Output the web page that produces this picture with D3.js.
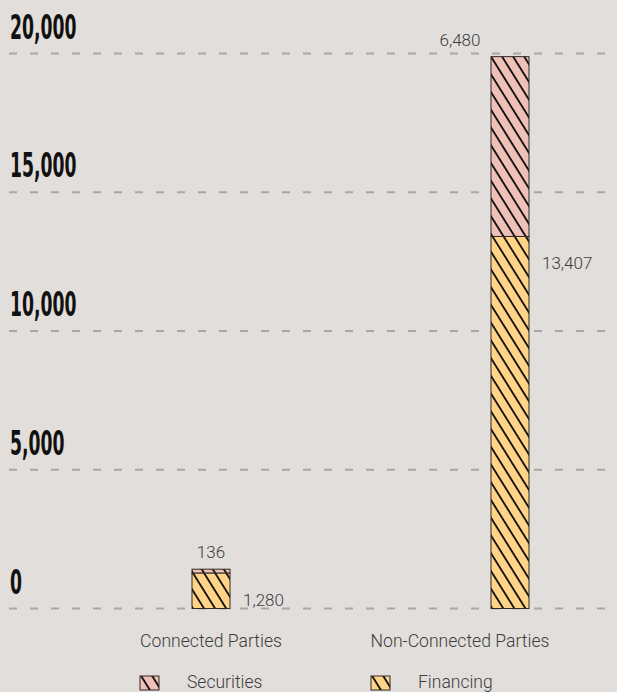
<!DOCTYPE html>
<html>
<head>
<meta charset="utf-8">
<script src="https://cdn.jsdelivr.net/npm/d3@7"></script>
<style>
  html, body { margin: 0; padding: 0; background: #e2dedb; }
  svg { display: block; }
</style>
</head>
<body>
<svg id="chart" width="617" height="692"></svg>
<script>
// Related-party exposure, stacked by type
const categories = ["Connected Parties", "Non-Connected Parties"];
const financing = [1280, 13407];
const securities = [136, 6480];
const yTicks = [0, 5000, 10000, 15000, 20000];
const seriesNames = ["Securities", "Financing"];

const svg = d3.select("#chart");
const W = 617, H = 692;

const y = d3.scaleLinear().domain([0, 20000]).range([608.5, 53.5]);
// bar centres and category caption centres
const xBar = d3.scalePoint().domain(categories).range([211, 510]);
const xCap = d3.scalePoint().domain(categories).range([211, 460]);
const barW = 38;

const colors = { Securities: "#efc0b8", Financing: "#ffd488" };

// hatch patterns
const defs = svg.append("defs");
seriesNames.forEach(name => {
  const p = defs.append("pattern")
    .attr("id", "hatch-" + name)
    .attr("patternUnits", "userSpaceOnUse")
    .attr("width", 9.4).attr("height", 9.4)
    .attr("patternTransform", "rotate(-32)");
  p.append("rect").attr("width", 9.4).attr("height", 9.4).attr("fill", colors[name]);
  p.append("line").attr("x1", 1).attr("y1", -1).attr("x2", 1).attr("y2", 11)
    .attr("stroke", "#000").attr("stroke-width", 1.7);
});

// gridlines
svg.append("g").selectAll("line").data(yTicks).join("line")
  .attr("x1", 9).attr("x2", W)
  .attr("y1", d => y(d)).attr("y2", d => y(d))
  .attr("stroke", "#aaa6a3").attr("stroke-width", 2)
  .attr("stroke-dasharray", "8,13");

// y tick labels (condensed bold)
const fmt = d3.format(",");
svg.append("g").selectAll("text").data(yTicks).join("text")
  .attr("transform", d => `translate(10,${y(d) - 15}) scale(0.58,1)`)
  .attr("font-family", "'DejaVu Sans Condensed', 'Liberation Sans Narrow', sans-serif")
  .attr("font-weight", "bold")
  .attr("font-size", 33)
  .attr("fill", "#111")
  .text(d => fmt(d));

// stacked bars
const stackData = categories.map((c, i) => ({ cat: c, Financing: financing[i], Securities: securities[i] }));
const stack = d3.stack().keys(["Financing", "Securities"])(stackData);
const barG = svg.append("g");
stack.forEach(layer => {
  barG.append("g").selectAll("rect").data(layer).join("rect")
    .attr("x", d => xBar(d.data.cat) - barW / 2)
    .attr("width", barW)
    .attr("y", d => y(d[1]))
    .attr("height", d => y(d[0]) - y(d[1]))
    .attr("fill", `url(#hatch-${layer.key})`)
    .attr("stroke", "#2e2826").attr("stroke-width", 1);
});

const labelFont = "Roboto, 'Open Sans', sans-serif";
const textCol = "#3d3d3d";

// value labels: financing to the right of its segment top, securities above the bar
svg.append("g").selectAll("text").data(categories).join("text")
  .attr("x", d => xBar(d) + barW / 2 + 13)
  .attr("y", (d, i) => y(financing[i]) + 33)
  .attr("font-family", labelFont).attr("font-weight", 300)
  .attr("font-size", 17).attr("fill", textCol)
  .text((d, i) => fmt(financing[i]));

svg.append("g").selectAll("text").data(categories).join("text")
  .attr("x", d => xCap(d))
  .attr("y", (d, i) => y(financing[i] + securities[i]) - 11)
  .attr("text-anchor", "middle")
  .attr("font-family", labelFont).attr("font-weight", 300)
  .attr("font-size", 17).attr("fill", textCol)
  .text((d, i) => fmt(securities[i]));

// category captions
svg.append("g").selectAll("text").data(categories).join("text")
  .attr("x", d => xCap(d))
  .attr("y", 647)
  .attr("text-anchor", "middle")
  .attr("font-family", labelFont).attr("font-weight", 300)
  .attr("font-size", 17.6).attr("fill", textCol)
  .text(d => d);

// legend
const legendX = [140, 371];
const lg = svg.append("g").selectAll("g").data(seriesNames).join("g")
  .attr("transform", (d, i) => `translate(${legendX[i]},676)`);
lg.append("rect").attr("width", 19).attr("height", 14)
  .attr("fill", d => `url(#hatch-${d})`)
  .attr("stroke", "#2e2826").attr("stroke-width", 1);
lg.append("text").attr("x", 47).attr("y", 12)
  .attr("font-family", labelFont).attr("font-weight", 300)
  .attr("font-size", 17.5).attr("fill", textCol)
  .text(d => d);
</script>
</body>
</html>
